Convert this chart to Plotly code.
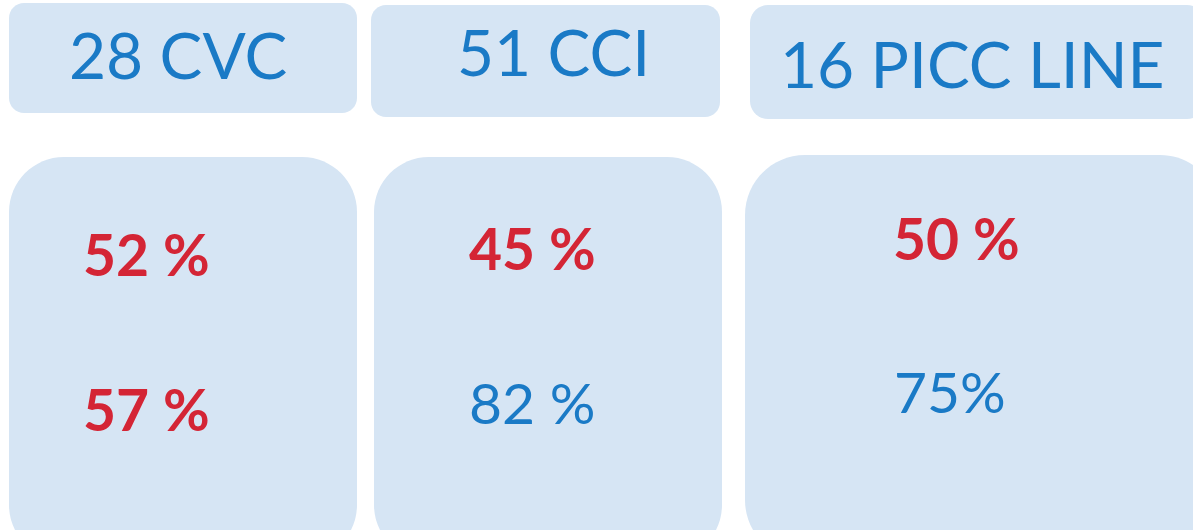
import plotly.graph_objects as go

# ---- data ----
headers = ["28 CVC", "51 CCI", "16 PICC LINE"]
top_values = ["52 %", "45 %", "50 %"]
bottom_values = ["57 %", "82 %", "75%"]
bottom_bold = [True, False, False]

# ---- layout (positions / styles) ----
W, H = 1193, 530
FILL = "#D6E5F4"
BLUE = "#1A7AC6"
RED = "#D42535"
FONT = "Lato"

header_boxes = [(9, 3, 357, 113, 15), (371, 5, 720, 117, 15), (750, 5, 1205, 119, 18)]
body_boxes = [(9, 157, 357, 560, 55), (374, 157, 722, 560, 55), (745, 155, 1220, 560, 60)]
header_text_pos = [(178, 54), (553, 51), (972, 63)]
top_text_pos = [(81, 254), (467, 248), (891, 238)]
bottom_text_pos = [(81, 409), (467, 402), (892, 391)]


def rounded_rect(x0, y0, x1, y1, r):
    k = 0.5523 * r
    return (
        f"M {x0 + r} {y0} L {x1 - r} {y0} "
        f"C {x1 - r + k} {y0} {x1} {y0 + r - k} {x1} {y0 + r} "
        f"L {x1} {y1 - r} "
        f"C {x1} {y1 - r + k} {x1 - r + k} {y1} {x1 - r} {y1} "
        f"L {x0 + r} {y1} "
        f"C {x0 + r - k} {y1} {x0} {y1 - r + k} {x0} {y1 - r} "
        f"L {x0} {y0 + r} "
        f"C {x0} {y0 + r - k} {x0 + r - k} {y0} {x0 + r} {y0} Z"
    )


shapes = []
for b in header_boxes + body_boxes:
    shapes.append(dict(type="path", xref="x", yref="y", path=rounded_rect(*b),
                       fillcolor=FILL, line=dict(width=0), layer="below"))

annotations = []
for txt, (x, y) in zip(headers, header_text_pos):
    annotations.append(dict(x=x, y=y, xref="x", yref="y", text=txt, showarrow=False,
                            xanchor="center", yanchor="middle",
                            font=dict(family=FONT, size=64, color=BLUE)))
for txt, (x, y) in zip(top_values, top_text_pos):
    annotations.append(dict(x=x, y=y, xref="x", yref="y", text=f"<b>{txt}</b>", showarrow=False,
                            xanchor="left", yanchor="middle",
                            font=dict(family=FONT, size=57, color=RED)))
for txt, (x, y), bold in zip(bottom_values, bottom_text_pos, bottom_bold):
    annotations.append(dict(x=x, y=y, xref="x", yref="y",
                            text=f"<b>{txt}</b>" if bold else txt, showarrow=False,
                            xanchor="left", yanchor="middle",
                            font=dict(family=FONT, size=57, color=RED if bold else BLUE)))

fig = go.Figure()
fig.update_layout(
    width=W, height=H, margin=dict(l=0, r=0, t=0, b=0),
    paper_bgcolor="white", plot_bgcolor="white",
    xaxis=dict(range=[0, W], visible=False, fixedrange=True),
    yaxis=dict(range=[H, 0], visible=False, fixedrange=True),
    shapes=shapes, annotations=annotations, showlegend=False,
)
fig.write_html(
    "out.html",
    config={"displayModeBar": False},
    post_script="document.body.style.margin='0';document.body.style.overflow='hidden';",
)
